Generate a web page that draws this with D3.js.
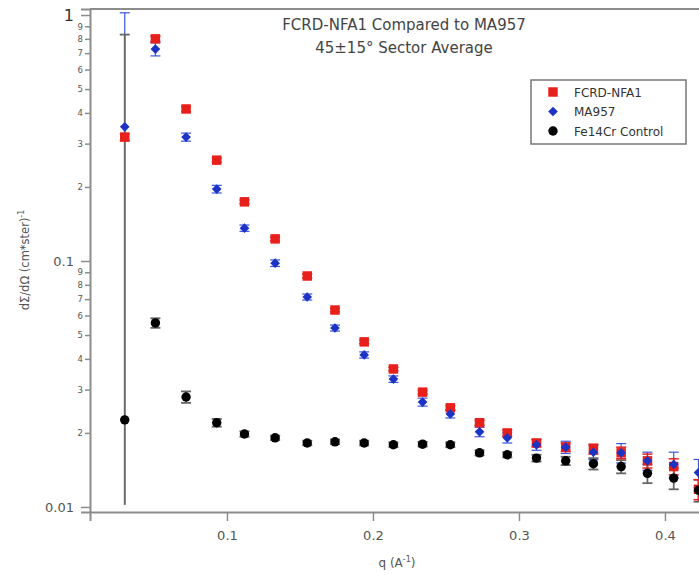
<!DOCTYPE html>
<html>
<head>
<meta charset="utf-8">
<script src="https://cdn.jsdelivr.net/npm/d3@7"></script>
<style>
  body { margin: 0; background: #fff; }
  svg { display: block; font-family: "DejaVu Sans", sans-serif; }
</style>
</head>
<body>
<svg id="chart" width="699" height="575"></svg>
<script>
// Data
const qValues = [0.030, 0.051, 0.072, 0.093, 0.112, 0.133, 0.155, 0.174, 0.194, 0.214, 0.234,
                 0.253, 0.273, 0.292, 0.312, 0.332, 0.351, 0.370, 0.388, 0.406, 0.423];
const fcrdValues = [0.319, 0.80, 0.415, 0.257, 0.174, 0.123, 0.0869, 0.0632, 0.0469, 0.0364, 0.0293,
                    0.0253, 0.0220, 0.0200, 0.0182, 0.0175, 0.0172, 0.0166, 0.0154, 0.0146, 0.0118];
const fcrdErrors = [0.01, 0.02, 0.01, 0.005, 0.003, 0.002, 0.0015, 0.001, 0.0008, 0.0006, 0.0005,
                    0.0005, 0.0005, 0.0006, 0.0006, 0.0007, 0.0008, 0.0009, 0.0010, 0.0011, 0.0011];
const ma957Values = [0.351, 0.727, 0.319, 0.196, 0.136, 0.098, 0.0714, 0.0534, 0.0415, 0.0331, 0.0267,
                     0.0239, 0.0202, 0.0191, 0.0179, 0.0175, 0.0167, 0.0166, 0.0154, 0.0149, 0.0138];
const ma957Errors = [0.67, 0.045, 0.012, 0.007, 0.004, 0.003, 0.002, 0.0015, 0.0012, 0.001, 0.001,
                     0.0009, 0.0009, 0.0009, 0.0009, 0.001, 0.0011, 0.0015, 0.0013, 0.0018, 0.0018];
const fe14crValues = [0.0226, 0.056, 0.028, 0.0220, 0.0198, 0.0191, 0.0182, 0.0184, 0.0182, 0.0179, 0.0180,
                      0.0179, 0.0166, 0.0163, 0.0158, 0.0154, 0.0150, 0.0146, 0.0137, 0.0131, 0.0117];
const fe14crErrors = [0.81, 0.0025, 0.0015, 0.0008, 0.0005, 0.0004, 0.0004, 0.0004, 0.0004, 0.0004, 0.0004,
                      0.0004, 0.0004, 0.0004, 0.0005, 0.0006, 0.0008, 0.0009, 0.0012, 0.0013, 0.0012];

const seriesNames = ['FCRD-NFA1', 'MA957', 'Fe14Cr Control'];
const xTickValues = [0.1, 0.2, 0.3, 0.4];
const yMajorTicks = [1, 0.1, 0.01];
const yMinorTicks = [2, 3, 4, 5, 6, 7, 8, 9];
const titleLines = ['FCRD-NFA1 Compared to MA957', '45\u00b115\u00b0 Sector Average'];

// Layout
const plot = { left: 90, right: 700, top: 9, bottom: 512 };
const xDomain = [0.0062, 0.424];
const yDomain = [0.00954, 1.058];
const errFloor = 0.0102;
const frameColor = '#8c8c8c';
const textColor = '#555';

const svg = d3.select('#chart');

const x = d3.scaleLinear().domain(xDomain).range([plot.left, plot.right]);
const y = d3.scaleLog().domain(yDomain).range([plot.bottom, plot.top]);

const series = [
    { name: seriesNames[0], values: fcrdValues, errors: fcrdErrors, color: '#e8201c', errColor: '#e8201c', errWidth: 1.5, shape: 'square' },
    { name: seriesNames[1], values: ma957Values, errors: ma957Errors, color: '#1c33c4', errColor: '#3a55e0', errWidth: 1.2, shape: 'diamond' },
    { name: seriesNames[2], values: fe14crValues, errors: fe14crErrors, color: '#000', errColor: '#666', errWidth: 1.8, shape: 'circle' }
];

const symbolFor = {
    square: d3.symbol().type(d3.symbolSquare).size(90),
    diamond: d3.symbol().type(d3.symbolDiamond2).size(60),
    circle: d3.symbol().type(d3.symbolCircle).size(70)
};

// Clip for data
svg.append('clipPath').attr('id', 'plot-clip')
    .append('rect')
    .attr('x', plot.left).attr('y', plot.top)
    .attr('width', plot.right - plot.left).attr('height', plot.bottom - plot.top);

const dataLayer = svg.append('g').attr('clip-path', 'url(#plot-clip)');

// Error bars (blue first, then black, then red)
[series[1], series[2], series[0]].forEach(s => {
    const g = dataLayer.append('g')
        .attr('stroke', s.errColor)
        .attr('stroke-width', s.errWidth);
    qValues.forEach((q, i) => {
        const v = s.values[i];
        const e = s.errors[i];
        const hi = v + e;
        const lo = Math.max(v - e, errFloor);
        const cx = x(q);
        g.append('line')
            .attr('x1', cx).attr('x2', cx)
            .attr('y1', y(lo)).attr('y2', y(hi));
        g.append('line')
            .attr('x1', cx - 5).attr('x2', cx + 5)
            .attr('y1', y(hi)).attr('y2', y(hi));
        if (v - e > errFloor) {
            g.append('line')
                .attr('x1', cx - 5).attr('x2', cx + 5)
                .attr('y1', y(lo)).attr('y2', y(lo));
        }
    });
});

// Markers
series.forEach(s => {
    dataLayer.append('g')
        .selectAll('path')
        .data(qValues.map((q, i) => ({ q, v: s.values[i] })))
        .join('path')
        .attr('d', symbolFor[s.shape])
        .attr('transform', d => `translate(${x(d.q)},${y(d.v)})`)
        .attr('fill', s.color);
});

// Frame
svg.append('line')
    .attr('x1', plot.left).attr('x2', plot.right)
    .attr('y1', plot.top).attr('y2', plot.top)
    .attr('stroke', frameColor).attr('stroke-width', 2);

// X axis
const xAxis = svg.append('g')
    .attr('transform', `translate(0,${plot.bottom})`)
    .call(d3.axisBottom(x).tickValues(xTickValues).tickSize(9).tickPadding(10).tickFormat(d3.format('.1f')));

// Y axis: majors
const yAxisMajor = svg.append('g')
    .attr('transform', `translate(${plot.left},0)`)
    .call(d3.axisLeft(y).tickValues(yMajorTicks).tickSize(9).tickPadding(7)
        .tickFormat(d => d === 1 ? '1' : String(d)));

// Y axis: minors, labelled with their mantissa
const minorValues = [];
yMajorTicks.slice(1).forEach(base => {
    yMinorTicks.forEach(m => minorValues.push(base * m));
});
const yAxisMinor = svg.append('g')
    .attr('transform', `translate(${plot.left},0)`)
    .call(d3.axisLeft(y).tickValues(minorValues).tickSize(5).tickPadding(2)
        .tickFormat(d => String(Math.round(d / Math.pow(10, Math.floor(Math.log10(d) + 1e-9))))));

[xAxis, yAxisMajor, yAxisMinor].forEach(a => {
    a.select('.domain').attr('stroke', frameColor).attr('stroke-width', 2);
    a.selectAll('.tick line').attr('stroke', frameColor).attr('stroke-width', 1.5);
    a.selectAll('.tick text').attr('fill', textColor).attr('font-family', '"DejaVu Sans", sans-serif');
});
xAxis.selectAll('.tick text').attr('font-size', 13);
yAxisMajor.selectAll('.tick text').attr('font-size', 13);
yAxisMajor.selectAll('.tick text').filter(d => d === 1).attr('font-size', 16).attr('fill', '#333');
yAxisMinor.selectAll('.tick text').attr('font-size', 8.5);
yAxisMinor.select('.domain').remove();

// Axis labels
svg.append('text')
    .attr('x', 397).attr('y', 567)
    .attr('text-anchor', 'middle')
    .attr('font-size', 12)
    .attr('fill', textColor)
    .html('q (A<tspan dy="-5" font-size="8">-1</tspan><tspan dy="5">)</tspan>');

svg.append('text')
    .attr('transform', 'translate(29,260) rotate(-90)')
    .attr('text-anchor', 'middle')
    .attr('font-size', 11.5)
    .attr('fill', textColor)
    .html('d\u03a3/d\u03a9 (cm*ster)<tspan dy="-5" font-size="8">-1</tspan>');

// Title
svg.append('g')
    .selectAll('text')
    .data(titleLines)
    .join('text')
    .attr('x', 404)
    .attr('y', (d, i) => 30 + i * 23)
    .attr('text-anchor', 'middle')
    .attr('font-size', 15)
    .attr('fill', '#444')
    .text(d => d);

// Legend
const legend = svg.append('g');
legend.append('rect')
    .attr('x', 531).attr('y', 80)
    .attr('width', 155).attr('height', 64)
    .attr('fill', '#fff')
    .attr('stroke', '#777').attr('stroke-width', 1.5);

const legendRows = legend.selectAll('g.row')
    .data(series)
    .join('g')
    .attr('class', 'row')
    .attr('transform', (d, i) => `translate(0,${92 + i * 19.5})`);

legendRows.append('path')
    .attr('d', d => symbolFor[d.shape]())
    .attr('transform', 'translate(553,0)')
    .attr('fill', d => d.color);

legendRows.append('text')
    .attr('x', 574).attr('y', 4.5)
    .attr('font-size', 12)
    .attr('fill', '#333')
    .text(d => d.name);
</script>
</body>
</html>
